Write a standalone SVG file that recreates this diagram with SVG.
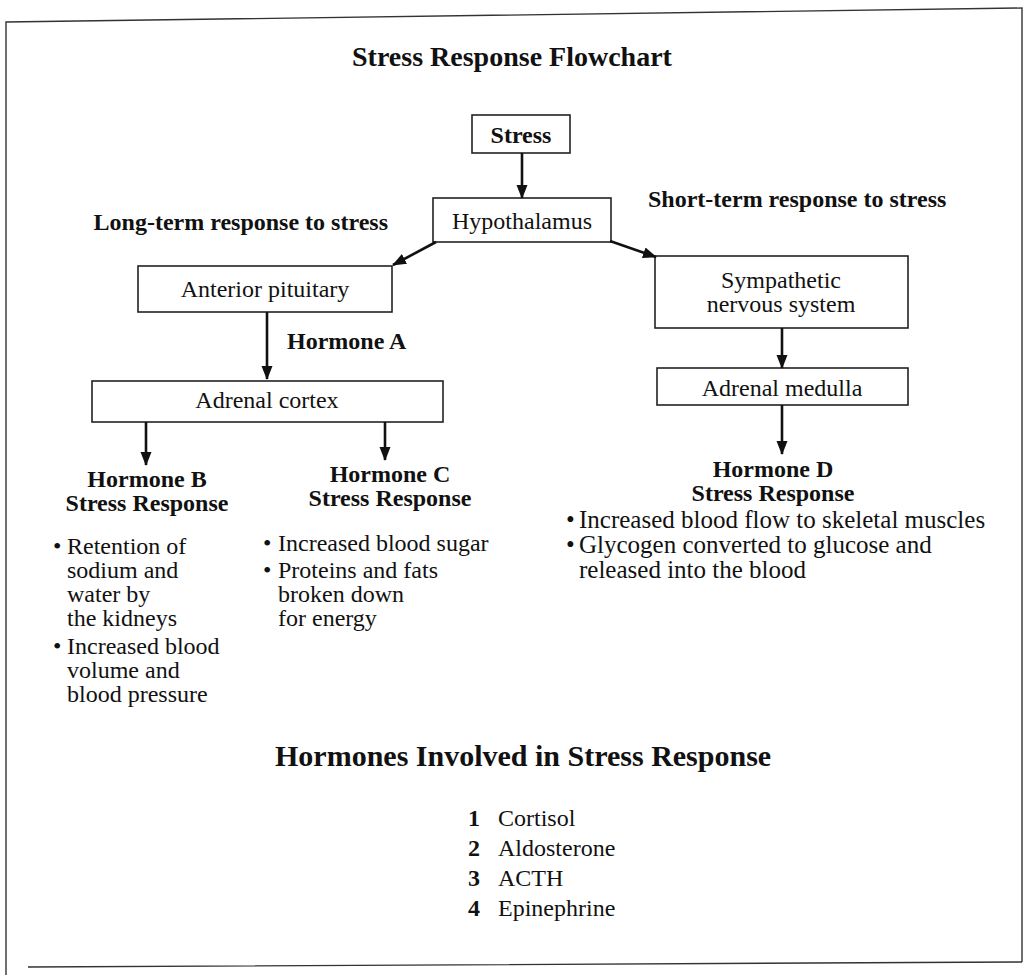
<svg xmlns="http://www.w3.org/2000/svg" width="1025" height="979" viewBox="0 0 1025 979">
<style>
text{font-family:"Liberation Serif","Times New Roman",serif;fill:#111}
.b{font-weight:bold}
.t{font-size:24px}
.d{font-size:25px}
.c{text-anchor:middle}
.box{fill:#fff;stroke:#222;stroke-width:1.6}
.con{stroke:#111;stroke-width:2.6;fill:none}
.frame{stroke:#333;stroke-width:1.4;fill:none}
</style>
<defs>
<marker id="ah" markerUnits="userSpaceOnUse" markerWidth="14" markerHeight="14" viewBox="0 0 14 14" refX="13" refY="7" orient="auto">
<path d="M0,1.5 L14,7 L0,12.5 Z" fill="#111"/>
</marker>
</defs>
<rect width="1025" height="979" fill="#fff"/>
<path class="frame" d="M6,975 L6,22 L1022,8 L1022,962 M28,967 L1022,962"/>
<text class="b c" x="512" y="66" style="font-size:28px">Stress Response Flowchart</text>

<g id="stress"><rect class="box" x="472" y="115" width="98" height="38"/><text class="b c t" x="521" y="143">Stress</text></g>
<g id="hypothalamus"><rect class="box" x="433" y="198" width="178" height="44"/><text class="c t" x="522" y="229">Hypothalamus</text></g>
<text class="b t" x="388" y="230" text-anchor="end">Long-term response to stress</text>
<text class="b t" x="648" y="207">Short-term response to stress</text>
<g id="anterior-pituitary"><rect class="box" x="138" y="266" width="254" height="46"/><text class="c t" x="265" y="297">Anterior pituitary</text></g>
<g id="sympathetic"><rect class="box" x="655" y="256" width="253" height="72"/><text class="c t" x="781" y="288">Sympathetic</text><text class="c t" x="781" y="312">nervous system</text></g>
<text class="b t" x="287" y="349">Hormone A</text>
<g id="adrenal-cortex"><rect class="box" x="92" y="381" width="351" height="41"/><text class="c t" x="267" y="408">Adrenal cortex</text></g>
<g id="adrenal-medulla"><rect class="box" x="657" y="368" width="251" height="37"/><text class="c t" x="782" y="396">Adrenal medulla</text></g>

<g id="hormone-b"><text class="b c t" x="147" y="487">Hormone B</text><text class="b c t" x="147" y="511">Stress Response</text>
<text class="t" x="53" y="554">•</text><text class="t" x="67" y="554">Retention of</text>
<text class="t" x="67" y="578">sodium and</text><text class="t" x="67" y="602">water by</text><text class="t" x="67" y="626">the kidneys</text>
<text class="t" x="53" y="654">•</text><text class="t" x="67" y="654">Increased blood</text>
<text class="t" x="67" y="678">volume and</text><text class="t" x="67" y="702">blood pressure</text></g>

<g id="hormone-c"><text class="b c t" x="390" y="482">Hormone C</text><text class="b c t" x="390" y="506">Stress Response</text>
<text class="t" x="263" y="551">•</text><text class="t" x="278" y="551">Increased blood sugar</text>
<text class="t" x="263" y="578">•</text><text class="t" x="278" y="578">Proteins and fats</text>
<text class="t" x="278" y="602">broken down</text><text class="t" x="278" y="626">for energy</text></g>

<g id="hormone-d"><text class="b c t" x="773" y="477">Hormone D</text><text class="b c t" x="773" y="501">Stress Response</text>
<text class="d" x="566" y="528">•</text><text class="d" x="579" y="528">Increased blood flow to skeletal muscles</text>
<text class="d" x="566" y="553">•</text><text class="d" x="579" y="553">Glycogen converted to glucose and</text>
<text class="d" x="579" y="578">released into the blood</text></g>

<g id="hormones-list"><text class="b" x="275" y="766" style="font-size:30px">Hormones Involved in Stress Response</text>
<text class="b t" x="468" y="826">1</text><text class="t" x="498" y="826">Cortisol</text>
<text class="b t" x="468" y="856">2</text><text class="t" x="498" y="856">Aldosterone</text>
<text class="b t" x="468" y="886">3</text><text class="t" x="498" y="886">ACTH</text>
<text class="b t" x="468" y="916">4</text><text class="t" x="498" y="916">Epinephrine</text></g>

<g id="connectors">
<line class="con" x1="522" y1="153" x2="522" y2="198" marker-end="url(#ah)"/>
<line class="con" x1="436" y1="242" x2="393" y2="265" marker-end="url(#ah)"/>
<line class="con" x1="610" y1="241" x2="656" y2="257" marker-end="url(#ah)"/>
<line class="con" x1="267" y1="312" x2="267" y2="379" marker-end="url(#ah)"/>
<line class="con" x1="146" y1="422" x2="146" y2="465" marker-end="url(#ah)"/>
<line class="con" x1="385" y1="422" x2="385" y2="460" marker-end="url(#ah)"/>
<line class="con" x1="782" y1="328" x2="782" y2="368" marker-end="url(#ah)"/>
<line class="con" x1="782" y1="405" x2="782" y2="454" marker-end="url(#ah)"/>
</g>
</svg>
